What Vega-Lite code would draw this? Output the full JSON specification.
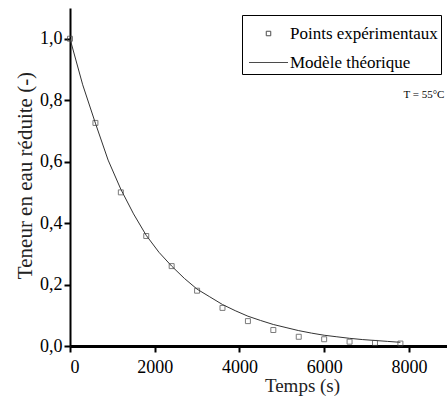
{
  "$schema": "https://vega.github.io/schema/vega-lite/v6.json",
  "width": 377,
  "height": 338,
  "autosize": {"type": "none"},
  "padding": {"left": 70, "top": 8, "right": 0, "bottom": 60},
  "background": "white",
  "config": {
    "view": {"stroke": null},
    "font": "Liberation Serif",
    "axis": {"grid": false, "domainColor": "black", "tickColor": "black", "labelColor": "black", "titleColor": "#222222", "labelFont": "Liberation Serif", "titleFont": "Liberation Serif", "titleFontWeight": "normal", "labelFontSize": 18, "titleFontSize": 18, "tickSize": 6, "tickWidth": 2},
    "legend": {"labelFont": "Liberation Serif", "labelFontSize": 17, "labelColor": "black"}
  },
  "datasets": {
    "pts": [
      {"t": 0, "v": 1.0}, {"t": 600, "v": 0.726}, {"t": 1200, "v": 0.50}, {"t": 1800, "v": 0.358},
      {"t": 2400, "v": 0.26}, {"t": 3000, "v": 0.18}, {"t": 3600, "v": 0.124}, {"t": 4200, "v": 0.081},
      {"t": 4800, "v": 0.052}, {"t": 5400, "v": 0.03}, {"t": 6000, "v": 0.022}, {"t": 6600, "v": 0.014},
      {"t": 7200, "v": 0.01}, {"t": 7800, "v": 0.008}
    ],
    "model": [
      {"t": 0, "v": 1.0}, {"t": 300, "v": 0.85}, {"t": 600, "v": 0.725}, {"t": 900, "v": 0.605},
      {"t": 1200, "v": 0.51}, {"t": 1500, "v": 0.43}, {"t": 1800, "v": 0.36}, {"t": 2100, "v": 0.305},
      {"t": 2400, "v": 0.26}, {"t": 2700, "v": 0.22}, {"t": 3000, "v": 0.185}, {"t": 3300, "v": 0.16},
      {"t": 3600, "v": 0.135}, {"t": 3900, "v": 0.115}, {"t": 4200, "v": 0.097}, {"t": 4500, "v": 0.083},
      {"t": 4800, "v": 0.07}, {"t": 5100, "v": 0.06}, {"t": 5400, "v": 0.05}, {"t": 5700, "v": 0.042},
      {"t": 6000, "v": 0.035}, {"t": 6300, "v": 0.03}, {"t": 6600, "v": 0.025}, {"t": 6900, "v": 0.021},
      {"t": 7200, "v": 0.018}, {"t": 7500, "v": 0.015}, {"t": 7800, "v": 0.012}
    ],
    "note": [{"t": 8840, "v": 0.818, "label": "T = 55°C"}]
  },
  "layer": [
    {
      "data": {"name": "model"},
      "mark": {"type": "line", "color": "#333333", "strokeWidth": 1},
      "encoding": {
        "x": {"field": "t", "type": "quantitative", "scale": {"domain": [0, 8900], "nice": false, "zero": false},
          "axis": {"title": "Temps (s)", "values": [0, 2000, 4000, 6000, 8000], "format": "d", "domainWidth": 3, "labelPadding": 6, "titleX": 232, "titlePadding": 0, "titleFontSize": 19}},
        "y": {"field": "v", "type": "quantitative", "scale": {"domain": [0, 1.1], "nice": false},
          "axis": {"title": "Teneur en eau réduite (-)", "values": [0, 0.2, 0.4, 0.6, 0.8, 1.0], "labelExpr": "replace(format(datum.value, '.1f'), '.', ',')", "domainWidth": 2, "labelPadding": 2, "titlePadding": 4, "titleFontSize": 21, "titleY": 167}}
      }
    },
    {
      "data": {"name": "pts"},
      "mark": {"type": "point", "filled": false, "strokeWidth": 1, "color": "#444444", "size": 1100},
      "encoding": {
        "x": {"field": "t", "type": "quantitative"},
        "y": {"field": "v", "type": "quantitative"},
        "shape": {"datum": "Points expérimentaux", "type": "nominal",
          "scale": {"domain": ["Points expérimentaux", "Modèle théorique"], "range": ["M-0.15,-0.15H0.15V0.15H-0.15Z", "M-1.3,0H1.3"]},
          "legend": {"title": null, "orient": "none", "legendX": 172, "legendY": 7, "fillColor": "white", "strokeColor": "black", "padding": 3, "symbolSize": 900, "symbolStrokeColor": "black", "symbolStrokeWidth": 1, "symbolOffset": 8, "rowPadding": 5, "labelOffset": 6}}
      }
    },
    {
      "data": {"name": "note"},
      "mark": {"type": "text", "fontSize": 11, "color": "black", "font": "Liberation Serif", "align": "right"},
      "encoding": {
        "x": {"field": "t", "type": "quantitative"},
        "y": {"field": "v", "type": "quantitative"},
        "text": {"field": "label"}
      }
    },
    {
      "mark": {"type": "rule", "color": "black", "strokeWidth": 2},
      "encoding": {"y": {"datum": 1.1}}
    }
  ]
}
